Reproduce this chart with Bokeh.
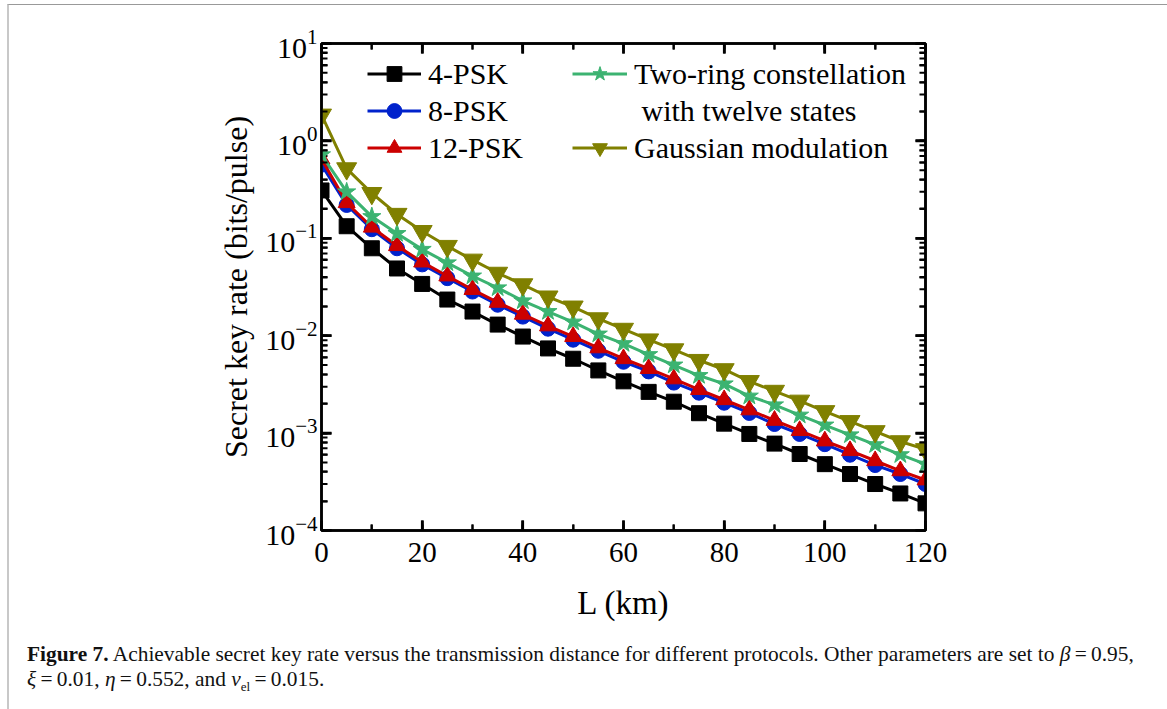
import math
from bokeh.plotting import figure
from bokeh.models import (Legend, LegendItem, LinearAxis, LogAxis, SingleIntervalTicker,
                          LogTicker, CustomJSTickFormatter, Div)
from bokeh.layouts import column
from bokeh.embed import file_html
from bokeh.resources import INLINE

# ---------------- data ----------------
distance_km = [0, 5, 10, 15, 20, 25, 30, 35, 40, 45, 50, 55, 60,
               65, 70, 75, 80, 85, 90, 95, 100, 105, 110, 115, 120]

psk4 = [0.31, 0.133, 0.079, 0.049, 0.034, 0.0235, 0.0177, 0.0130, 0.0098, 0.0074,
        0.0058, 0.0044, 0.0034, 0.00265, 0.0021, 0.0016, 0.00125, 0.00098, 0.00078,
        0.00061, 0.00048, 0.00038, 0.00030, 0.00024, 0.00019]
psk8 = [0.57, 0.22, 0.124, 0.079, 0.054, 0.039, 0.0284, 0.0208, 0.0157, 0.0118,
        0.0091, 0.0070, 0.0054, 0.0043, 0.0033, 0.0026, 0.00205, 0.00161, 0.00124,
        0.00098, 0.00077, 0.00060, 0.00047, 0.00038, 0.00030]
psk12 = [0.65, 0.232, 0.130, 0.084, 0.057, 0.041, 0.0298, 0.0220, 0.0166, 0.0126,
         0.0098, 0.0075, 0.0058, 0.0046, 0.0036, 0.0028, 0.0022, 0.00173, 0.00135,
         0.00106, 0.00083, 0.00066, 0.00052, 0.00041, 0.00033]
two_ring = [0.72, 0.30, 0.167, 0.112, 0.077, 0.056, 0.041, 0.031, 0.0228, 0.0177,
            0.0138, 0.0104, 0.0083, 0.0064, 0.0050, 0.0039, 0.0032, 0.0024, 0.00195,
            0.00153, 0.00121, 0.00096, 0.00076, 0.00060, 0.00048]
gaussian = [1.85, 0.52, 0.29, 0.177, 0.118, 0.083, 0.060, 0.044, 0.0335, 0.0251,
            0.0198, 0.0150, 0.0117, 0.0091, 0.0072, 0.0056, 0.0045, 0.0034, 0.0027,
            0.00214, 0.00167, 0.00132, 0.00104, 0.00082, 0.00068]

series_names = ["4-PSK", "8-PSK", "12-PSK", "Two-ring constellation", "Gaussian modulation"]

# tick positions
x_major_ticks = [0, 20, 40, 60, 80, 100, 120]
x_minor_ticks = [10, 30, 50, 70, 90, 110]
y_major_ticks = [1e-4, 1e-3, 1e-2, 1e-1, 1e0, 1e1]
y_minor_ticks = [m * d for d in [1e-4, 1e-3, 1e-2, 1e-1, 1e0] for m in range(2, 10)]

FONT = "Liberation Serif"
X0, X1 = 0, 120
Y0, Y1 = 1e-4, 10

p = figure(width=1154, height=625, x_range=(X0, X1), y_range=(Y0, Y1),
           y_axis_type="log", output_backend="svg", toolbar_location=None,
           min_border_left=312, min_border_right=238, min_border_top=38,
           min_border_bottom=100)
p.grid.visible = False
p.outline_line_color = "black"
p.outline_line_width = 2.5

def style_axis(ax):
    ax.axis_line_width = 2.5
    ax.major_tick_line_width = 2.5
    ax.minor_tick_line_width = 2
    ax.major_tick_line_color = "black"
    ax.minor_tick_line_color = "black"
    ax.major_tick_in = 10
    ax.major_tick_out = 0
    ax.minor_tick_in = 6
    ax.minor_tick_out = 0
    ax.major_label_text_font = FONT
    ax.major_label_text_font_size = "29px"
    ax.major_label_text_color = "black"
    ax.axis_label_text_font = FONT
    ax.axis_label_text_font_size = "32px"
    ax.axis_label_text_font_style = "normal"
    ax.axis_label_text_color = "black"

xa = p.xaxis[0]
xa.ticker = SingleIntervalTicker(interval=20, num_minor_ticks=2)
xa.axis_label = "L (km)"
style_axis(xa)
xa.major_label_standoff = 12
xa.axis_label_standoff = 20
xa.axis_label_text_font_size = "33px"

ya = p.yaxis[0]
ya.ticker = LogTicker()
ya.axis_label = "Secret key rate (bits/pulse)"
style_axis(ya)
ya.major_label_text_font_size = "30px"
ya.major_label_standoff = 4
ya.axis_label_standoff = 8

top_ax = LinearAxis(ticker=SingleIntervalTicker(interval=20, num_minor_ticks=2),
                    formatter=CustomJSTickFormatter(code="return ''"))
style_axis(top_ax)
p.add_layout(top_ax, "above")
right_ax = LogAxis(ticker=LogTicker(), formatter=CustomJSTickFormatter(code="return ''"))
style_axis(right_ax)
p.add_layout(right_ax, "right")

# inward tick marks on all four sides, drawn as dash markers centred on the frame
# edges (the outer half is clipped by the frame)
for xs_t, sz, w in [(x_major_ticks, 20, 2.5), (x_minor_ticks, 12, 2)]:
    for edge in (Y0, Y1):
        p.scatter(xs_t, [edge] * len(xs_t), marker="dash", size=sz, angle=math.pi / 2,
                  line_color="black", line_width=w)
for ys_t, sz, w in [(y_major_ticks, 20, 2.5), (y_minor_ticks, 12, 2)]:
    for edge in (X0, X1):
        p.scatter([edge] * len(ys_t), ys_t, marker="dash", size=sz,
                  line_color="black", line_width=w)

colors = ["black", "#0022cc", "#cc0000", "#3cb371", "#808000"]
markers = ["square", "circle", "triangle", "star", "inverted_triangle"]
sizes = [15, 15, 17, 19, 20]
all_series = [psk4, psk8, psk12, two_ring, gaussian]

renderers = []
for ys, c, m, s in zip(all_series, colors, markers, sizes):
    ln = p.line(distance_km, ys, line_color=c, line_width=3)
    sc = p.scatter(distance_km, ys, marker=m, size=s, fill_color=c, line_color=c)
    renderers.append([ln, sc])

# invisible renderer that carries the second line of the two-ring legend label
spacer = p.line(distance_km, two_ring, line_alpha=0, line_width=0)

def make_legend(items, x, y, gw):
    lg = Legend(items=items, location=(x, y), orientation="vertical",
                border_line_alpha=0, background_fill_alpha=0,
                padding=0, margin=0, spacing=0,
                glyph_width=gw, glyph_height=37, label_height=37,
                label_standoff=7, label_text_font=FONT,
                label_text_font_size="30px", label_text_color="black")
    p.add_layout(lg, "center")
    return lg

left_items = [LegendItem(label=series_names[i], renderers=renderers[i]) for i in range(3)]
right_items = [LegendItem(label=series_names[3], renderers=renderers[3]),
               LegendItem(label="\u00a0with twelve states", renderers=[spacer]),
               LegendItem(label=series_names[4], renderers=renderers[4])]
make_legend(left_items, 46, 364, 54)
make_legend(right_items, 251, 364, 55)

caption = Div(
    text=("<b>Figure 7.</b> Achievable secret key rate versus the transmission distance "
          "for different protocols. Other parameters are set to <i>&beta;</i>&thinsp;=&thinsp;0.95,<br>"
          "<i>&xi;</i>&thinsp;=&thinsp;0.01, <i>&eta;</i>&thinsp;=&thinsp;0.552, and "
          "<i>v</i><sub style='font-size:13px'>el</sub>&thinsp;=&thinsp;0.015."),
    width=1154, height=79,
    styles={"font-family": FONT, "font-size": "21.4px", "line-height": "25px",
            "color": "#111", "padding-left": "13px", "padding-top": "7px",
            "box-sizing": "border-box", "white-space": "nowrap"})

layout = column(p, caption, spacing=0, margin=(4, 0, 0, 7),
                styles={"border-left": "2px solid #c8c8c8",
                        "border-right": "2px solid #c8c8c8",
                        "border-top": "1px solid #999999",
                        "background": "white"})

open("out.html", "w").write(file_html(layout, INLINE))
